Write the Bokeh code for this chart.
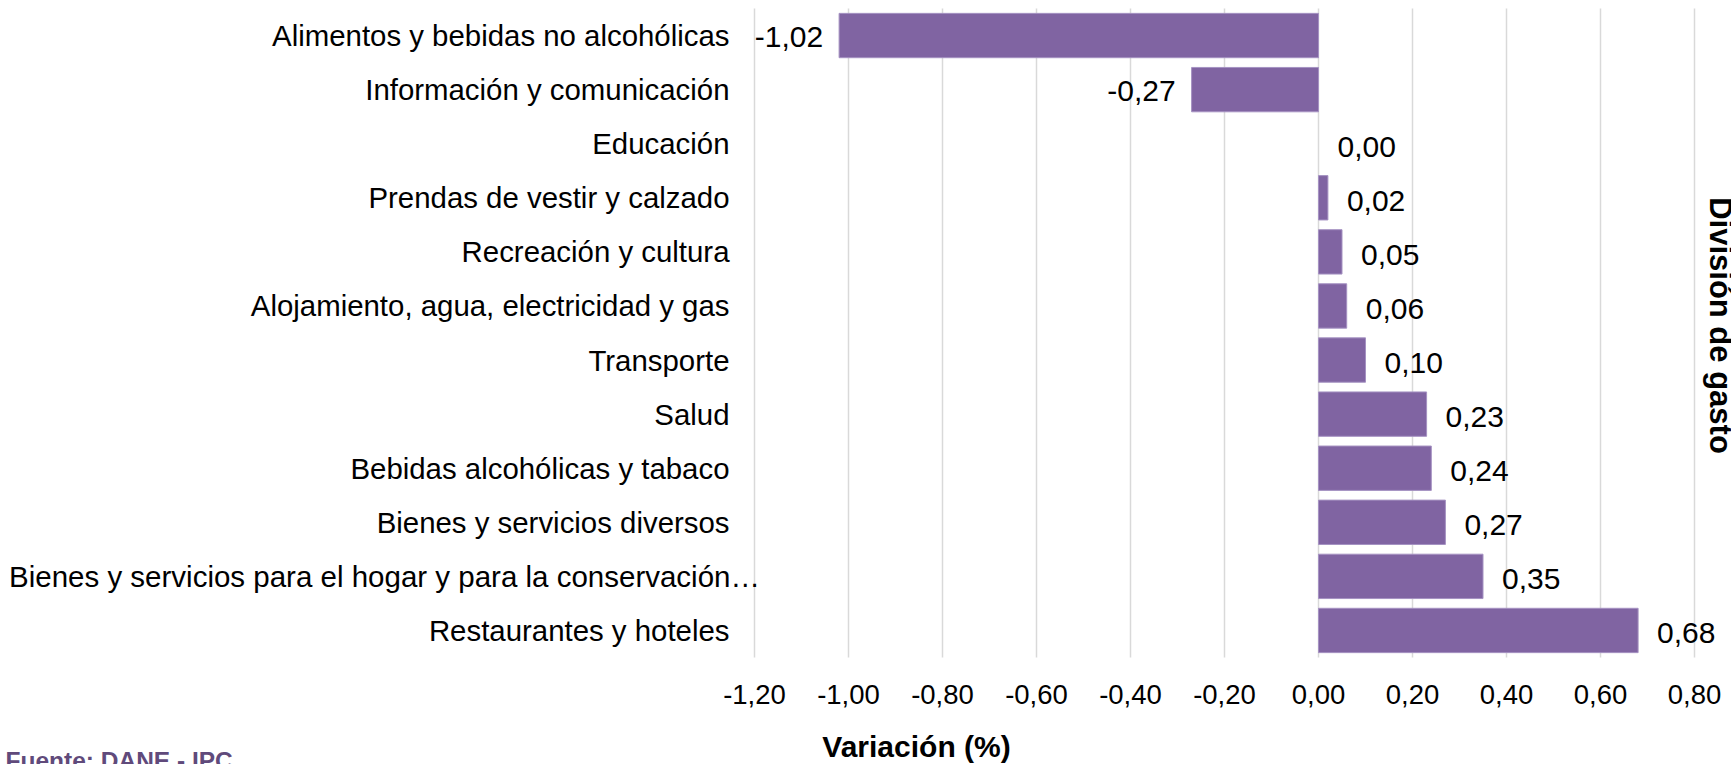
import math
from bokeh.plotting import figure
from bokeh.models import Range1d, FixedTicker, CustomJSTickFormatter, ColumnDataSource
from bokeh.core.properties import value
from bokeh.embed import file_html
from bokeh.resources import INLINE

# ---------------- data ----------------
categories = [
    "Alimentos y bebidas no alcohólicas",
    "Información y comunicación",
    "Educación",
    "Prendas de vestir y calzado",
    "Recreación y cultura",
    "Alojamiento, agua, electricidad y gas",
    "Transporte",
    "Salud",
    "Bebidas alcohólicas y tabaco",
    "Bienes y servicios diversos",
    "Bienes y servicios para el hogar y para la conservación…",
    "Restaurantes y hoteles",
]
values = [-1.02, -0.27, 0.00, 0.02, 0.05, 0.06, 0.10, 0.23, 0.24, 0.27, 0.35, 0.68]
x_ticks = [-1.2, -1.0, -0.8, -0.6, -0.4, -0.2, 0.0, 0.2, 0.4, 0.6, 0.8]
x_title = "Variación (%)"
y_title = "División de gasto"
source_note = "Fuente: DANE - IPC"

# ---------------- layout (canvas pixels) ----------------
W, H = 1731, 764
n = len(categories)
TICK_LO_PX, TICK_HI_PX = 754, 1694      # where first / last tick fall
AREA_TOP_PX, AREA_BOTTOM_PX = 8, 657    # plot area vertical extent

ppu_x = (TICK_HI_PX - TICK_LO_PX) / (x_ticks[-1] - x_ticks[0])
x_start = x_ticks[0] - TICK_LO_PX / ppu_x
x_end = x_ticks[-1] + (W - TICK_HI_PX) / ppu_x

ppu_y = (AREA_BOTTOM_PX - AREA_TOP_PX) / n
y_top = n - 0.5
y_bottom = -0.5
y_end = y_top + AREA_TOP_PX / ppu_y
y_start = y_bottom - (H - AREA_BOTTOM_PX) / ppu_y


def px2x(px):
    return x_start + px / ppu_x


def py2y(py):
    return y_end - py / ppu_y


FONT = "Liberation Sans"
BAR = "#8064A2"

ypos = [n - 1 - i for i in range(n)]   # first category at the top

p = figure(width=W, height=H,
           x_range=Range1d(x_start, x_end),
           y_range=Range1d(y_start, y_end),
           y_axis_location=None,
           output_backend="svg", toolbar_location=None,
           min_border_left=0, min_border_right=0, min_border_top=0,
           min_border_bottom=0,
           outline_line_color=None, background_fill_color="white",
           border_fill_color="white")

p.xgrid.visible = False
p.ygrid.visible = False

ax = p.xaxis[0]
ax.fixed_location = y_bottom
ax.ticker = FixedTicker(ticks=x_ticks)
ax.formatter = CustomJSTickFormatter(code="return tick.toFixed(2).replace('.', ',');")
ax.axis_line_color = None
ax.major_tick_line_color = None
ax.minor_tick_line_color = None
ax.major_tick_out = 0
ax.major_tick_in = 0
ax.major_label_standoff = 27
ax.major_label_text_font = FONT
ax.major_label_text_font_size = "27.5px"
ax.major_label_text_color = "black"

# vertical gridlines spanning the plot area
p.segment(x0=x_ticks, y0=[y_bottom] * len(x_ticks), x1=x_ticks, y1=[y_top] * len(x_ticks),
          line_color="#D9D9D9", line_width=1.5)

# bars
src = ColumnDataSource(dict(y=ypos, val=values,
                            edge=[0.0 if v == 0 else 1.0 for v in values]))
p.hbar(y="y", left=0, right="val", height=0.82, source=src,
       fill_color=BAR, line_color="#A592C2", line_width=1, line_alpha="edge")

# value labels
def fmt(v):
    return f"{v:.2f}".replace(".", ",")

pos_src = ColumnDataSource(dict(
    y=[y for y, v in zip(ypos, values) if v >= 0],
    val=[v for v in values if v >= 0],
    txt=[fmt(v) for v in values if v >= 0]))
neg_src = ColumnDataSource(dict(
    y=[y for y, v in zip(ypos, values) if v < 0],
    val=[v for v in values if v < 0],
    txt=[fmt(v) for v in values if v < 0]))
p.text(x="val", y="y", text="txt", source=pos_src, x_offset=19, y_offset=3,
       text_align="left", text_baseline="middle", text_font=value(FONT),
       text_font_size="30px", text_color="black")
p.text(x="val", y="y", text="txt", source=neg_src, x_offset=-16, y_offset=1,
       text_align="right", text_baseline="middle", text_font=value(FONT),
       text_font_size="30px", text_color="black")

# category labels
short_y = [y for y, c in zip(ypos, categories) if not c.endswith("…")]
short_t = [c for c in categories if not c.endswith("…")]
long_y = [y for y, c in zip(ypos, categories) if c.endswith("…")]
long_t = [c for c in categories if c.endswith("…")]
p.text(x=[px2x(729)] * len(short_t), y=short_y, text=short_t, text_align="right",
       text_baseline="middle", text_font=value(FONT), text_font_size="29.4px",
       text_color="black")
p.text(x=[px2x(8.5)] * len(long_t), y=long_y, text=long_t, text_align="left",
       text_baseline="middle", text_font=value(FONT), text_font_size="29.5px",
       text_color="black")

# titles
p.text(x=[px2x(916)], y=[py2y(746)], text=[x_title], text_align="center",
       text_baseline="middle", text_font=value(FONT), text_font_style="bold",
       text_font_size="30px", text_color="black")
p.text(x=[px2x(1720)], y=[py2y(325)], text=[y_title], angle=-math.pi / 2,
       text_align="center", text_baseline="middle", text_font=value(FONT),
       text_font_style="bold", text_font_size="31px", text_color="black")
p.text(x=[px2x(5)], y=[py2y(760)], text=[source_note], text_align="left",
       text_baseline="middle", text_font=value(FONT), text_font_style="bold",
       text_font_size="24.5px", text_color="#604A7B")

open("out.html", "w").write(file_html(p, INLINE))
